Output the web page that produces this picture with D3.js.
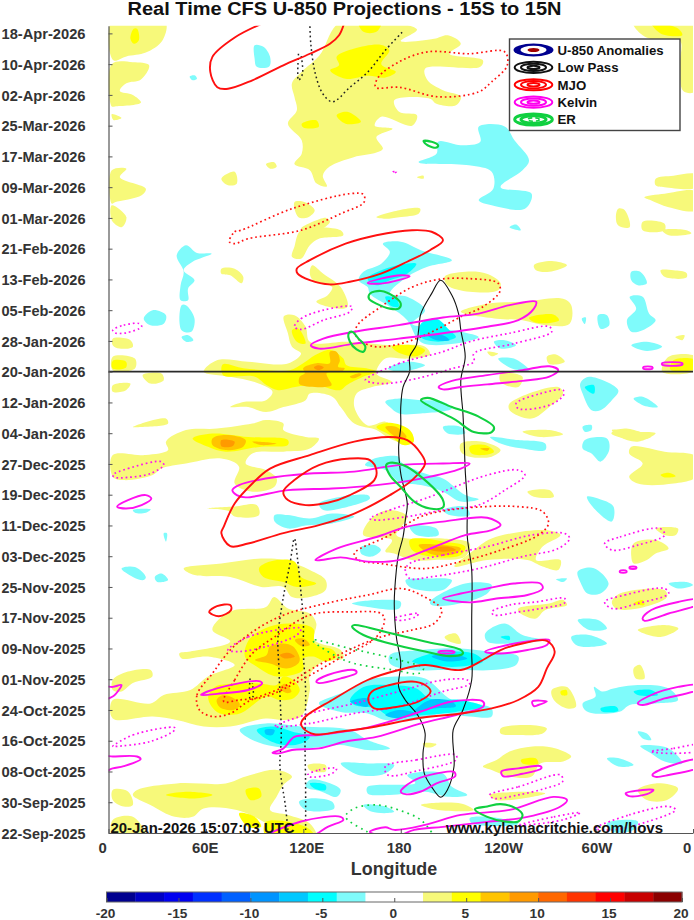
<!DOCTYPE html>
<html><head><meta charset="utf-8"><title>Real Time CFS U-850 Projections</title>
<script src="https://cdn.jsdelivr.net/npm/d3@7"></script>
<style>html,body{margin:0;padding:0;background:#fff}svg{display:block}text{font-family:"Liberation Sans",Arial,sans-serif}</style>
</head><body><div id="chart"></div>
<script>
// Every shape is a flat list: lon (deg E), days since 22-Sep-2025, lon, days, ...
const chartTitle = "Real Time CFS U-850 Projections - 15S to 15N";
const dateLabels = ["22-Sep-2025","30-Sep-2025","08-Oct-2025","16-Oct-2025","24-Oct-2025","01-Nov-2025","09-Nov-2025","17-Nov-2025","25-Nov-2025","03-Dec-2025","11-Dec-2025","19-Dec-2025","27-Dec-2025","04-Jan-2026","12-Jan-2026","20-Jan-2026","28-Jan-2026","05-Feb-2026","13-Feb-2026","21-Feb-2026","01-Mar-2026","09-Mar-2026","17-Mar-2026","25-Mar-2026","02-Apr-2026","10-Apr-2026","18-Apr-2026"];
const lonTicks = [0,60,120,180,240,300,360];
const lonLabels = ["0","60E","120E","180","120W","60W","0"];
const barTicks = [-20,-15,-10,-5,0,5,10,15,20];
const barColors = ["#00008f","#0000c4","#0000f0","#0030ff","#0060ff","#0094ff","#00c8ff","#00ffff","#7ffbfb","#ffffff","#ffffff","#f7f97a","#ffff00","#ffc400","#ff9a00","#ff6800","#ff3400","#ff0000","#c80000","#8b0000"];
const legendLabels = ["U-850 Anomalies","Low Pass","MJO","Kelvin","ER"];
const nowDay = 120;

const anomPos3 = [
[2,211,35,211,33,206,23,203,11,202,3,201],
[2,200,15,200.5,25,199.7,20,196,11,195,7,193,15,192,20,190,4,189,2,189],
[2,187,8,186,3,185.5],
[143,211,190,209,180,206,200.5,206.6,209,207.5,217,205.3,210,202.7,230.6,201,229,199.3,195,198.8,196.5,195.8,206,193.2,217,191.5,214,189.3,202,189.7,198,191,176,190.6,179,187.6,190,186.7,187,184,168,186.3,164,184,175,183.2,165,181,169,178,165,177,151,175.8,136,173.3,132,171,134.5,168.2,128,169,124,172.4,114.5,174,119,176.7,119,180.2,110.5,184.5,116,188,114.5,191.5,113,195,119,198,130,202.3],
[323,211,362,211,362,193,354,193,352,200,352,206,340,206,329,207.5],
[97,174,102,174.5,103.6,173.3,99.5,172.8],
[69.5,170.2,77.7,172,79,168.9,73.6,168.5],
[190,170.6,194,171,194,170.2],
[2,172.4,11,172.8,7,170.6,23,167.6,20.4,165.9,4,164.1,2,163.7],
[2,163.3,11,160.2,8,157.6,2,159.4],
[114.5,164.1,121,164.1,127,162,123,160.2,117,160.2],
[165,160.2,179,162,192,162.4,191,161.1,179,160.2,170.5,159.8],
[118.6,157.2,134,160,136.4,159,129.5,156.8],
[337,170.2,348,171,362,171.3,362,168,342.5,168,337,168.5],
[330,165.4,342.5,166.3,362,166.8,362,162,345,162.8,334,164.6],
[314,162.4,318,162,321,157.6,314,158,312.5,160.2],
[329,159,342.5,158.5,342.5,156.8,329,156.8],
[341,156.8,356,156.8,359,156,345,155.5],
[118.6,156.8,143,156.8,144.6,155.5,129.6,154.6,124,152.9,118.6,149.4,113,149.9,114.5,152.5],
[125.5,147.7,132.3,145.5,143,142,147.3,136.9,142,136.4,128,138.2,135,139.9,137.8,142,126.8,143.4,124,145.5],
[69.5,146.8,77.7,146.8,83,144.7,82,143,75,145.1,69.5,145.5],
[262,147.7,273,148.8,282.4,147.7,271.5,146,263.3,146.4],
[207,144.7,219.7,146,233,145.5,241.5,143,240,141.2,222.4,140.8,208.7,142.5],
[340,146.4,348,146.4,356,145.7,356,144.5,342.5,144.7],
[217,135.6,233.3,137.7,255,138.2,280,139,285,137.3,284,132.5,269,132.1,255,133.4,239,133.8],
[108,134.4,114.5,134.7,121.4,131.7,124,127.8,147.3,127.8,173.3,126.9,195,126.5,198,124.5,184,123.4,170.5,123.4,165,119.5,174.6,117.3,162.3,116,152.8,114.3,151.4,110.8,159.6,106,170.5,107,176,105.6,187,104,185.5,101.3,173,102.6,165,104.8,151.4,106.5,143,110.8,137.8,113.5,124,114.3,121.4,112.6,107.7,110.8,97,109.5,86,110.8,75,110.8,83,112.1,97,112.6,101,114.8,90,117.3,75,118.7,58.6,120,66.8,123,86,122.6,110.5,122.1,118.6,124.7,113,126.5,110.5,130],
[2.6,98.3,23,98.3,36.7,99.6,35.4,101.8,47.7,104.8,66.8,105.2,88.6,106.5,97,107.4,107.7,106.5,107.7,104.8,121.4,103,129.6,102.6,124,100,107.7,99.2,88.6,98.7,84.5,96.1,96.8,94.4,103.6,92.2,102,90,88.6,88.8,77.7,90.9,80.4,95.3,69.5,97.4,47.7,96.1,32.6,94.8,27.2,93.1,9.4,91.8,2.6,92.7],
[2.6,123.9,16.3,123.4,16.3,120.8,2.6,120.4],
[2.6,128.6,13.5,128.2,15,126.5,6.7,126,2.6,126.9],
[21,119.1,32.6,119.5,34,117.8,25.8,116.9],
[2.6,116.5,13.5,116.9,10.8,115.2,2.6,114.8],
[247,111.7,277,116,280,114.3,271.5,110.8,260.6,107.8,247,110],
[241.5,119.5,255,118.7,252.4,116,241.5,117.3],
[270,123.9,275.6,124.5,281,122.6,271.5,122],
[233.3,125.2,240,124.7,236,124],
[349,129,354.8,129.5,353.4,128.2],
[345,123.9,362,123.9,362,120.4,341,120],
[15,105.6,35.4,107.8,36.7,106.5,20.4,105.6],
[217,101.3,230.6,101.8,241.5,99.6,236,97.9,222.4,97.9,217,99.2],
[309.7,104,318,105.2,334,103,323,102.2],
[255,104.4,271.5,104.8,280,103.7,266,103],
[322,100.5,342.5,99.2,362,97.9,362,92.7,348,90.9,326,90.9,320.7,92.7,329,96.1,320.7,98.7],
[310,104.8,326,104.4,337,104,326,101.8,315,103],
[61,84.4,77.7,84.9,91.3,85.3,92.7,82.7,77.7,82.3,73.6,83.8],
[258,88.8,271.5,89.2,274.3,87.5,262,87.5],
[161,81.4,172,84,184,82.3,177.3,77.5,184,76.6,206,76.6,222.4,75.3,219.7,71.9,200.5,71,187,71,176,72.7,170.5,73.2,174.6,76.2,156.9,77.5],
[236,76.6,269,78.8,278.4,77.5,267.4,74.5,263.3,71,278.4,71,277,68.4,267.4,69.3,258,71,233.3,71,213,69.3,224,73.2],
[337,79.2,350.8,79.2,349.4,77.5,342.5,77.5],
[323.4,75.3,337,76.2,345,74,337,72.7,331.6,71,323.4,70.1,322,71.9],
[310,60.1,315,62.3,342.5,63.2,344,61.4,326,58.4,312.5,58.4],
[252.4,58.4,271.5,59.7,280,60.6,282.4,59.3,269,58,263.3,55.8,258,56.2,252.4,57.6],
[326,52.8,342.5,54.1,351,53.2,340,51],
[46.3,68.8,69.5,70.1,94,71.4,107.7,71,124,68.4,133.7,65.8,133.7,63.2,124,61.4,113,61.4,107.7,64,94,64,75,66.6,53,67.1],
[69.5,56.2,77.7,58,97,58.8,102,61.4,110.5,58.4,124,57.1,128,54.5,126.8,50.2,143,47.6,144.6,45.4,132.3,44.6,124,41.1,124,37.2,118.6,30.3,107.7,29.4,96.8,29.8,75,27.7,58.6,27.7,42,29.4,27.2,30.3,2.6,29.8,2.6,34.6,26,33.7,34,35.9,50.4,37.2,61.3,40.7,77.7,43.7,61.3,45.9,45,45.4,43.6,46.7,50.4,47.2,75,49.8,64,52.8],
[2.6,39.8,12,42,26,42.4,27,40.7,15,39,8,36.8,2.6,37.2],
[241.5,27.2,258,28.1,270,27.2,267.4,25.9,252.4,25.5,241.5,25.9],
[230.6,17.3,239,19,247,21.2,261,22.5,275.6,22,285,19.9,280,18.6,266,18.1,260.6,14.7,247,14.7,236,16.4],
[234.7,9.9,258,10.7,269,10.3,255,9,238.8,8.6],
[192.4,7.3,217,7.7,225,6,203,6],
[273,37.2,282.4,38,288,32.9,282.4,32.4,274.3,34.6],
[323.4,42.8,327.5,43.7,330.2,40.2,324.8,40.2],
[326,11.2,337,12.9,350.8,11.6,344,8.6,331.6,8.6],
[193.7,23.3,202,23.1,199,22.3,195,22.4],
[122.7,17.7,133.7,17.7,133.7,16,124,16.4],
[207,51,214,51.9,217,49.3,210,49.8],
[17.6,11.2,42,12.9,72.2,12.9,84.5,14.7,103.6,16.4,113,14.7,107.7,12.5,103.6,9.5,99.5,6,110.5,4.7,124,2.5,128,-1,107.7,-1,95.4,2.9,79,6,58.6,6.4,51.8,4.2,40.8,4.2,25.8,7.3,15,9.9],
[2.6,11.2,12,10.8,15,7.3,9.4,6.9,2.6,8.6],
[2.6,3.4,15,4.2,23,-1,2.6,-1]
];
const anomPos5 = [
[140.5,201.9,151,204,168,205,173,203.6,168,200,177,198,170.5,196.5,160,197,146,196.2,136.5,198.4,142,199.7],
[154,211,168,211,165,208.4,157,208.4],
[140.5,186.7,147,187.6,155.5,185,146,184.5],
[119,184.5,128,185.4,129.5,183.7,120,183.5],
[15.5,209.2,17.6,209.2,18.7,206.2,15.7,205.3,13.5,206.6],
[334,211,351,209.2,353.4,207.5,340,208],
[259,134,274,134.9,277.5,133.4,263.3,132.7],
[70.3,121.9,83,120.9,97.4,120.4,111.7,120.4,119.9,122.2,127.1,124.3,134.3,125.6,137.4,125.6,144.5,123.5,146.6,121.7,158.9,120.9,165,120,156.8,118.7,146.6,116.5,142.5,115.2,128.1,116.5,115.8,116.1,104.5,115.2,97.4,116.5,90.2,118.7,70.6,119.1],
[2.6,122.8,10.8,122.6,10.8,121.1,2.6,120.8],
[113,130.8,117,131.2,121.4,127.3,116,127.8],
[174.6,126.5,187,126.9,195,125.6,189.6,124,180,124.7],
[348,123,362,123,362,120.8,346,120.6],
[51.8,102.6,64,103.9,86,103,110.5,102.2,110.5,100.9,94,100.5,72.2,99.2,61.3,100.5],
[165,105.6,173.3,106.7,185.5,104.8,188,101.8,181.4,100.9,173.3,103.5],
[222.4,100.5,232,100.9,237.4,99.2,230.6,98.3,223.7,98.7],
[340,93.1,345,93.7,349.3,92.8,342.5,92.5],
[185.5,76.2,195,76.6,206,75.8,219.7,74.5,217,72.3,198,71.9,187,73.6],
[92.7,68.8,99.5,70.6,114.5,70.6,118.6,66.6,128,64.9,116,64,107.7,65.3,95.4,66.6],
[323.4,59.7,329,60.6,330,59.3],
[84,45.9,87.1,50.6,99.4,53.7,111.7,54.5,126,53.2,127.1,49.3,138.3,47.6,140.4,45.9,134.3,44.6,126,45.9,119.9,45.4,119.9,42.4,103.5,40.7,91.2,43.3],
[61.4,35.5,65.5,38,76.8,38.9,93.2,38.9,103.5,38.5,107.6,40.7,113.7,39.8,117.8,37.2,113.7,35,105.5,34.6,97.4,35.5,80.9,31.1,68.6,31.1,63.5,32.9],
[254,19,263.3,19.4,264.7,18.1,255,18.1],
[278.4,36.8,282,37.2,282.5,35.9,279,35.9],
[35.4,9.9,47.7,10.7,64,9.9,53,9],
[84.5,11.2,92.7,11.6,94,9.4,87.2,8.6],
[80.4,5.1,90,4.2,94,1.6,86,1.6],
[97,2.9,121.4,1.6,127,-1,97,-1]
];
const anomPos7 = [
[119.9,120.9,128.1,122.2,136.3,122.2,136.3,125.2,140.4,125.2,142.5,123,141.4,121.3,145.5,120.9,143.5,120,134.3,119.6,135.3,118.3,137.4,116.5,117.8,116.7,117.8,118.7,120.9,119.6],
[148.6,118.7,154.8,119.6,155.8,119.3,150.6,118.3],
[64,102.6,72.2,103.5,84.5,102.2,83,100.5,72.2,99.6,64,100.9],
[88.6,101.8,103.6,101.3,94,100.9],
[170.5,105.6,177.3,105.6,183.6,103,178.7,102.6],
[229,100,234.6,100,233.3,99.4],
[191,74.9,206,74.9,217,74,214,72.7,199,72.5],
[90.2,45,97.4,46.3,99.4,48.5,107.6,49.3,113.7,48.5,117.8,45.4,116.8,44.1,109.7,42.8,99.4,44.1],
[114.8,50.2,119.9,50.6,124,48.9,118.9,48.6],
[66.6,34.6,70.6,35.9,78.9,34.6,80.9,33.3,76.8,32,68.6,32.7],
[105.5,37.7,108.6,38.8,112.7,36.8,109.7,36.4]
];
const anomPos9 = [
[126.5,121.1,129.1,121.7,132.6,121.1,129.1,120.4],
[69.5,102.2,77.7,101.8,76.3,100.6,69.5,100.6],
[196.5,74,208.7,74.5,214,73.6,203,73.2],
[105.5,46.3,110.6,46.9,114.8,45.9,108.6,45.4]
];
const anomNeg3 = [
[90,204.9,95.4,204.5,99.5,201.9,99,199.4,91.3,199.3,90,201.4],
[50,196.8,53,197.1,54.5,196.2,51.8,195.8],
[228,183.7,244,183.8,250,180.2,259,175,255,172.4,241.5,168,260.6,166.3,256.5,162.4,236,163.3,228,164.6,237,167.6,236,172,222,173.7,191,174.5,202,176.7,203,179.8,217,178.9,229,179.8],
[247,157.6,251,158.3,254,156.8],
[169,153.3,180,153.8,192.4,151.6,211.5,149,196.5,147.3,184,144.7,173.3,140.3,184,139.5,195,136,187,132.5,194,131.7,217,130.4,228,129,214,127.3,194,127.3,189.6,129,184,133.4,173.3,136.9,161,140.3,159.6,142,154,143.8,157,146,168,148.1,173.3,151.2],
[172,120.8,184,122.6,195,121.7,179,120],
[42,150.3,47.7,152.9,54.5,150.9,63.5,150.7,51.8,148.6,46.3,146.4,53,143.8,49,141.6,49,138.6,44.4,138.6,44.4,142.5,46.3,146],
[45,137.3,47.7,137.3,53,133.8,51,130.4,45,130.8],
[21.7,133.8,27.2,136,35.4,134.7,34,132.5,25.8,132.1],
[45,129,49,129.5,52.3,128.2,47.7,127.8],
[170.5,112.2,179,113,192.4,112.6,206,112.2,211.5,110.4,192.4,109.1,179,109.1,173.3,110.8],
[290.6,117,296,118.7,314,115.2,310,112.6,303,110,297.5,110,292,114.3],
[323.4,113,329,113.5,338.4,110.8,329,111.3],
[240,123.4,249.7,123.4,259,120.4,248.4,120.8],
[237.4,127.8,244,128.2,251,126.9,241.5,126],
[322,126.9,331.6,127.8,341,126.5,331.6,125.4],
[321,139.5,329,139.5,333,135.1,337,133.4,329,130.8,322,130.4,319.3,133.4,325,136.4],
[301.5,134.7,307,134.7,308.4,132.1,303,131.2],
[291.5,133.8,294,134.1,293.4,132.4],
[322,146,327.5,146,331.6,143,326,142.5,322,143.8],
[206,105.6,217,105.6,219.7,104,208.7,104],
[235,103,252.4,102.2,269,101.3,269,99.6,255,100,241.5,101.3],
[292,105.7,297.5,106.1,297.5,104.8,293.4,104.4],
[293.4,102.2,307,102.6,308.4,99.6,303,96.6,297.5,98.7,292,100],
[294.7,87.5,301.5,87,311,84.9,310,81,300,84],
[163.7,97.4,178.7,97.9,180,96.6,195,93.5,206,92.2,219.7,87.9,228,86.8,217,86.2,206,88.8,192.4,90.5,178.7,91.4,170.5,94.4,158,95.7],
[206,84,219.7,84.9,222.4,82.7,210,82.7],
[185.5,79.7,202,79.2,203.3,77.5,189.6,77.5],
[102.3,82.7,110.5,82.7,124,81.8,137.8,83.1,151.4,82.3,137.8,80.5,121.4,80,110.5,79.2,102.3,81],
[129.6,85.7,159.6,87.9,161,87,143,84.4,132.3,84],
[15,84,26,84.2,23,83.3,16.3,83.3],
[34,78,36,78,35.4,75.8],
[155.5,74.4,163.7,74.9,167.8,73.6,162.3,71.9,155.5,72.7],
[289,68,299,68.9,308,64.9,303,62.3,295,62.3,291,64.9],
[345,64.9,356,65.3,360,64.5,350.8,63.6],
[275.6,66,282.4,66.2,280,65.3],
[289,55.4,301.5,55.4,307,53.2,296,52.8],
[285,51,296,51.5,307,49.3,296,48.4,288,48.9],
[183,65.8,195,66.2,211.5,65.8,206,63.2,185.5,64],
[198,60.1,219.7,64.9,236,64.5,233.3,62.3,211.5,59.3,199,59.3],
[150,59.7,165,60.6,180,60.1,179,58.4,159.6,58.8],
[8,68.8,16.3,69.2,23,66.6,21.7,65.8,15,66.6],
[28.5,66.6,32.6,67.5,36.7,65.8,30,65.3],
[129.6,33.7,146,36.8,159.6,39.8,178.7,40.7,195,40.2,211.5,34.6,226.5,33.7,236,32.4,236,30.3,222.4,30.3,206,31.1,189.6,29.4,170.5,29.4,159.6,31.1,143,31.5],
[80.8,26.8,96.8,28.5,118.6,27.7,148.7,26.8,159.6,24.2,173.3,22,159.6,21.6,143,22.9,121.4,22,102.3,22.5,88.6,24.2],
[173.3,46.3,192.4,47.6,217,48,233.3,47.2,252.4,45.9,251,43.7,236,42.4,219.7,42.4,206,42.4,187,42.4,173.3,44.1],
[233.3,49.8,232,51.9,244,54.5,255,51.5,267.4,50.2,249.7,49.3],
[292,33.7,300,35.5,299,38,304,36.8,311,37.6,326,38.5,345,37.6,350.8,34.6,337,33.7,321,33.3,315.2,31.6,299,31.1,293.4,32],
[326,26.4,331.6,25.9,334.3,24.2,329,24.6],
[327.5,22.6,345,22,353.4,18.1,342.5,18.6,334.3,20.7],
[307,19.4,315,19.4,323.4,17.7,314,17.3],
[143,18.1,159.6,18.1,176,17.7,170.5,15.5,154,15.1],
[124,13.8,133.7,13.3,143,11.2,140.5,9.4,131,10.8,121.4,12],
[159.6,12,189,13,184,15,206,15.5,211.5,12,221,9.9,208.7,9.4,195,10.7,173.3,9.9,159.6,10.3],
[117.3,8.1,124,9,137.8,8.1,139,6.4,121.4,6],
[222.4,3.8,233.3,4.2,252.4,2.5,251,2.1,224,2.5],
[307,2.5,326,3,323.4,0.8,310,0.4],
[156.9,7.3,170.5,6.9,176,5.5,162.3,5.5]
];
const anomNeg5 = [
[159.6,144.2,170.5,146.8,189.6,148.1,184,145.5,173.3,143.8,165,142.5],
[170.5,139.5,177.3,139,178.7,136.9,173.3,137.3],
[192.4,132.5,202,133.8,210,130.8,214,129,203,127.8,192.4,129],
[293.4,116,299,116.5,299,114.3,294.7,115.2],
[241.5,51,247,51.2,247,50.2],
[148.7,34.6,157,38,173.3,38.5,189.6,37.6,197.8,35,217,34.6,230.6,32.9,214,31.5,195,30.7,173.3,30.3,165,32.4,151.4,33.3],
[91.3,26.8,102.3,27.7,113,26.4,124,25,118.6,23.3,107.7,22.9,96.8,24.6],
[187,44.6,199,46.7,225,46.7,230.6,44.6,217,43.3,195,43.7],
[323.4,36.8,334.3,37.2,338.4,35.9,326,35.9],
[303,32.4,312.5,32.9,314,31.8,304,31.6],
[124,12.9,133.7,12.5,133.7,11.2,126.8,11.6]
];
const anomNeg7 = [
[196.5,129.5,206,129.5,210,128.2,202,128.2],
[197.8,34.6,211.5,34.2,214,33,200.5,32.4,188.3,31.6],
[148.7,34.2,159.6,35,159.6,32.9],
[170.5,30.7,178.7,32,189.6,31.1,178.7,29.8],
[96.3,26.8,102.3,26.8,101,25.5,96.8,25.7],
[199,45.9,210,46.7,221,45.4,208.7,44.6]
];

const lowPassSolid = [
[204.6,143.8,199,140.3,192.4,135.1,191,130.8,189.6,126.9,185.5,123.9,185.5,120,181.4,116,180,110.8,180,105.6,178.7,100.5,180,93.5,184,85.7,182.8,81.4,181.4,77,178.7,72.7,177.3,68.4,176,59.7,177.3,51,180,44.1,178.7,38,182.8,34.6,191,30.3,195,25.9,193.7,20.7,194.5,15.5,199,12,204.6,9.3,208.7,11.2,212.8,17.3,212.3,26.8,218.3,32,223.7,39.8,223.7,46.7,223.7,55.4,223.7,68.4,221,77,221,85.7,219.7,94.4,219,103,218.3,109.1,217,117.8,219.7,123.9,217,130.8,215.6,135.1,211.5,139.9]
];
const lowPassDottedOpen = [
[124,211,124.6,205.3,127.4,197.5,132,192.3,138,190.2,148.7,194,159.6,197.9,170.5,203.6,182,208.8],
[117,202.7,117,195.8,119.5,197.5,118.6,202.3],
[110.5,0.8,109,6.9,105.6,17.3,106.4,25,105,42.4,104.4,51,107.7,61.4,111.8,70.1,114.5,76.6,116.5,71,118.6,62.3,120,55.4,120,46.7,121.4,37.2,121,25,121.4,12,121.4,0.8],
[87.2,40.2,87.2,35,89,35.5,88.6,39]
];
const mjoSolidOpen = [
[97,211,78,207,64,201.9,62.7,198,67,194,73.6,193.6,88.6,195.8,107.7,199.7,124,202.7,136.4,205.3,142,207.5,145.4,211]
];
const mjoSolid = [
[116,146.8,124,149,146,153.3,165,155.5,187,156.8,199,156.4,206,154.2,198,151.6,184,148.6,167.8,145.5,148.7,143.4,136.4,142.7,124,143.8,116.5,145.5],
[69.5,78,71,79.7,77.7,85.7,88.6,90.9,99.5,94.8,124,98.3,151.4,101.8,173.3,103,184,102.2,192.4,98.7,195,96.1,187,91.8,173.3,87.9,151.4,83.1,129.6,80.1,107.7,78,86,75.3,75,74.6],
[107.7,88.8,114.5,91.8,129.6,95.7,148.7,97.4,161,97,165,94.4,163.7,91.8,148.7,87.9,135,85.9,121.4,85.3,110.5,86.6],
[62,57.5,66.8,59,75,59.3,75.5,58,68,56.4],
[118.6,28.5,121.4,30.3,137.8,34.6,159.6,39.8,178.7,42.4,195,43.7,217,42.4,230.6,45,241.5,47.6,255,49.3,270,50,274.8,47.2,270,42.8,264.7,38,252.4,34.6,236,32.4,217,31.1,189.6,29.8,165,27.7,143,26.4,126.8,25.7,120,27.2],
[160,34.6,162.3,36.8,173.3,38.5,187,39.4,195,38.5,198.4,36.8,191,34.2,176,32.7,163.7,32.4]
];
const mjoDotted = [
[244,203.2,222,202.7,196.5,203.2,179,200.6,166.4,196.7,164.5,194,179,194,203,191.5,228,192.8,236,195.4,245.6,199.7],
[74.4,153.8,77.7,156.4,81.8,156.8,113,162.4,148.7,166.3,157,166.1,157.4,164.1,143,161.1,118.6,156.8,86,154.6,77.7,153.3],
[152.8,131.7,167.8,136.9,187,142,203.3,144,222.4,144.2,240,143,241,140.8,230.6,136.9,217,134.3,203.3,131.2,189.6,128.6,176,126.9,162.7,126.6,152.8,129],
[151.4,72.7,173.3,77.5,192.4,82.3,217,84.4,252.4,84.9,267.4,83.6,271,80.5,264.7,77.5,238.8,73.2,217,70.6,195,68.8,167.8,70.1,154,71],
[56,32,54.5,35.9,64,41.5,75,47.6,86,51.5,97,54.5,110.5,57.1,137.8,60.1,159.6,61.9,180,63.6,192.4,61.9,205.2,58,200.5,54.5,187,52.8,167.8,51,146,47.2,124,42.4,107.7,38,86,34.2,75,31.1,64,30.3],
[71,34.2,77.7,39.8,88.6,46.7,102.3,51,124,56.7,148.7,57.5,167.8,57.1,170,55.4,165,51,140.5,45,118.6,39.8,96.8,35.5,80.4,34.6]
];
const kelvinSolid = [
[159.6,143.1,167.8,144.2,180,145.1,185.5,144.8,178.7,143.8,167.8,142.9],
[124.6,126.9,132.3,128.6,151.4,130.4,178.7,132.1,206,134.1,228,135.1,247,137.3,263.3,138.2,262,136.4,252.4,133.4,233.3,131.7,206,130,178.7,128.6,151.4,127.3,129.6,126],
[203.3,116,211.5,117.6,233.3,119.1,255,120.4,271.5,121.4,277,120.4,271.5,118.7,255,117.6,233.3,116.7,217,116,206,115.4],
[329.4,121.2,335,121.2,335,120.8,329.4,120.8],
[341,122.2,353.4,122.2,353.4,121.8,341,121.8],
[76.3,89.2,80.4,90.5,96.8,92.2,124,93.5,151.4,94,178.7,95.7,206,96.1,222.4,96.1,217,94.8,192.4,92.2,165,90.5,137.8,89.6,110.5,89.2,84.5,87.3,79,87.9],
[5.3,84.9,12,86.6,23,87.9,26.4,87,20.4,85.3,10.8,84.4],
[127.4,71,140.5,74,165,77,184,79.7,206,81,233.3,82,241.5,80.1,236,78.8,219.7,77.5,198,74,178.7,71,159.6,70.6,143,71.7,131,71],
[315,68.2,319,68.2,319,67.8,315,67.8],
[321,69.2,325,69.2,325,68.8,321,68.8],
[206,61,217,62.3,233.3,63.6,249.7,64.9,266,64.9,267.4,63.6,258,61.9,239,61,222.4,60],
[328.9,55.8,334.3,58,350.8,60.1,364,60.8,364,59.7,345,57.1,330.2,55.2],
[203.3,47.2,213,47.2,213,46.9,203.3,46.9],
[232,47.2,241.5,48.5,258,49.8,271.5,50.2,270,48.9,258,47.6,241.5,46.7],
[128,39.4,135,41.1,151.4,42.4,152.8,41.7,143,40.2,129.6,39],
[57,35.9,66.8,37.6,92.7,39.5,94.6,38.9,86,37.2,66.8,36.2],
[-3,38,2.6,38,8,38.5,6.7,37.4,2.6,35.5,-3,35],
[101,20.9,107.7,22,114.5,25,129.6,25.5,157,27.2,173.3,29,192.4,31.6,211.5,34.2,230.6,34.2,231,33,214,30.7,192.4,28.5,165,25,146,23.8,129.6,22,113,21.6,105,20.7],
[261,34.2,270,34.2,264.7,33.3,262,33],
[326,33.7,334.3,35.9,350.8,38,364,38.5,364,37.5,342.5,35,329,33.3],
[-3,19.9,2.6,19.9,17.6,19.9,19.8,19.2,9.4,17.4,2.6,16.8,-3,16],
[180,10.8,187,13.4,198,15.1,212.8,15.9,213.6,14.8,202,12.9,192.4,10.8,182.8,10.1],
[242,16,252.4,16.8,266,17.4,266.6,16.8,255,15.4,243,14.8],
[318.5,10.3,329,11.2,335.7,11.2,331.6,10.1,320.7,9.6],
[335,15.1,345,17.3,364,19,364,17.3,345,15.1,337,14.6],
[161,0.3,170.5,1.5,176,0.8,195,2.1,217,4.7,247,6,274,9.4,282.4,8.6,278.4,6.9,258,4.2,233.3,2.9,206,1.6,188.3,0.8,176,-1],
[96.8,-1,118.6,3,143,4.2,144.6,3.4,135,1.6,124,-1]
];
const kelvinDotted = [
[175,172,177.3,172,176,171.7],
[114.5,131.7,118.6,133.8,132.3,136,150,136.9,148.7,135.6,132.3,133.4,118.6,131],
[2.6,130.8,9.4,132.1,19,132.5,20.4,131.7,10.8,130.1,4,130.1],
[158.2,117.8,178.7,122.1,206,125.2,222.4,127.8,247,130,271.5,131.7,273,130.4,249.7,127.3,225,124.7,225,122.6,211.5,120.8,189.6,118.2,170.5,116.9,161,117.3],
[251,111.7,266,114.3,280,115.2,280.3,113.9,271.5,111.3,252.4,110.4],
[2.6,93.1,12,94.8,32.6,96.6,34,95.7,25.8,93.5,12,92.5,4,92.5],
[161,81.8,173.3,84,195,87,233.3,93.1,252.4,94.4,256.5,93.1,244.2,89.2,228,85.3,206,84,184,82.3,165,81.4],
[185.5,70.1,206,72.3,233.3,74.5,260.6,77.5,281,77.9,284,76.6,277,74,255,71.9,228,68.8,198,66.6,185.5,66.2,182.8,68.4],
[305.6,75.3,315,77,339.8,79.2,342.5,77.5,326,74.9,310,73.6],
[236,57.5,247,59.3,263.3,60.1,281,61,281,59.9,266,58.4,252.4,57.5,237.4,56.7],
[305.6,60.1,318,61.9,342.5,63.6,345,62.3,326,59.7,310,58.4],
[176,55.8,186,56.9,191,57.1,189,56.2,178,55.3],
[73.6,47.6,86,51,110.5,53.2,118.6,53.2,116,51.5,97,48.5,80.4,47.2],
[102.3,27.7,124,31.1,151.4,33.7,178.7,36.8,206,39.8,221,39.8,222.4,38.8,206,36.8,178.7,32.9,151.4,31.1,124,28.5],
[2.6,22.5,15,25.5,40.8,27.4,40.8,26.8,25.8,23.8,4,22.5],
[170.5,17.3,189.6,19,214,20.3,214,19,192.4,16.4,172,15.1],
[122.7,15.1,129.6,16.4,140.5,16.8,137.8,15.5,124,14.6],
[234.7,9.9,252.4,12,278.4,15.1,279.7,13.4,269,11.6,252.4,9.9,237.4,9],
[334,21.2,348,22,364,22.9,364,21.6,348,20.7],
[252.4,2,274.3,4.2,290.6,5.3,279.7,3.4],
[300,1.2,320.7,4.7,345,6.9,349.3,6,331.6,2.9,310,0.8]
];
const erSolid = [
[194,180,199,179.8,203,178.9,202,178.3,196.5,178.9],
[160.4,139,161,140.3,167.8,141,176,139.5,180,137.7,178.7,136.4,173.3,136.4,165,137.7],
[148,130,150,130.4,154,128.6,158.2,126.5,157,125.2,152.8,125.8,148.7,127.8],
[192.4,112.6,196.5,113.2,211.5,110.8,228,108.3,237.4,105.6,236,104.3,225,104.3,214,107.4,200.5,110.4],
[171,95.7,173.3,96.3,181.4,95.7,192.4,92.7,206,86.6,206,84.7,198,84.4,188.3,86.2,180,90,173.3,93.1],
[150,53.7,151.4,54.1,173.3,52,195,49.8,217,47.6,218.3,46.7,210,46,195,47.2,173.3,49.3,157,51.5],
[225.7,6.2,233.3,6.9,241.5,7.5,251,6.4,255,4.7,252.4,3,244,3,233.3,4.2]
];
const erDotted = [
[125.5,50.2,148.7,48,179,45,194,42.8,191,41.5,176,42.4,151.4,44.1,140.5,45.9]
];
const erDottedOpen = [
[159.6,0.3,146,4.2,151.4,6.4,165,7.3,178.7,6,192.4,3.4,199,0.2]
];

const W = 694, H = 920;
const x = d3.scaleLinear().domain([0,360]).range([108.5,693]);
const y = d3.scaleLinear().domain([0,210]).range([833,25.7]);
const svg = d3.select("#chart").append("svg").attr("width",W).attr("height",H);
svg.append("defs").append("clipPath").attr("id","plot").append("rect")
  .attr("x",x(0)).attr("y",y(210)).attr("width",x(360)-x(0)).attr("height",y(0)-y(210));
const pairs = f => d3.range(0,f.length,2).map(i=>[f[i],f[i+1]]);
const closed = d3.line().x(d=>x(d[0])).y(d=>y(d[1])).curve(d3.curveCatmullRomClosed.alpha(0.5));
const open = d3.line().x(d=>x(d[0])).y(d=>y(d[1])).curve(d3.curveCatmullRom.alpha(0.5));
const bandColor = d3.scaleQuantize().domain([-20,20]).range(barColors);
const plot = svg.append("g").attr("clip-path","url(#plot)");

[[anomPos3,3],[anomPos5,5],[anomPos7,7],[anomPos9,9],[anomNeg3,-3],[anomNeg5,-5],[anomNeg7,-7]].forEach(([set,v])=>{
  plot.append("g").selectAll("path").data(set).join("path")
    .attr("d",f=>closed(pairs(f))).attr("fill",bandColor(v));
});
function strokes(set,gen,color,width,dash){
  plot.append("g").selectAll("path").data(set).join("path")
    .attr("d",f=>gen(pairs(f))).attr("fill","none").attr("stroke",color)
    .attr("stroke-width",width).attr("stroke-linejoin","round").attr("stroke-dasharray",dash||null);
}
const DOT="1.7 2.9", DOTG="1.7 4.2", RED="#ff1010", MAG="#ff10f0", GRN="#10d040";
strokes(lowPassDottedOpen,open,"#222",1.5,DOT);
strokes(erDotted,closed,GRN,1.7,DOTG);
strokes(erDottedOpen,open,GRN,1.7,DOTG);
strokes(kelvinDotted,closed,MAG,1.7,DOT);
strokes(mjoDotted,closed,RED,1.7,DOT);
strokes(lowPassSolid,closed,"#111",1.1);
strokes(kelvinSolid,closed,MAG,1.9);
strokes(mjoSolid,closed,RED,1.9);
strokes(mjoSolidOpen,open,RED,1.9);
strokes(erSolid,closed,GRN,2.1);

svg.append("line").attr("x1",x(0)).attr("x2",x(360)).attr("y1",y(nowDay)).attr("y2",y(nowDay))
  .attr("stroke","#2a2a2a").attr("stroke-width",1.7);

function squeeze(sel,k){
  sel.each(function(){
    this.setAttribute("textLength",(this.getComputedTextLength()*k).toFixed(1));
    this.setAttribute("lengthAdjust","spacingAndGlyphs");
  });
  return sel;
}
const yAxis = d3.axisLeft(y).tickValues(dateLabels.map((d,i)=>i*8)).tickFormat((d,i)=>dateLabels[i]).tickSizeInner(-4).tickSizeOuter(0);
const gy = svg.append("g").attr("transform",`translate(${x(0)},0)`).call(yAxis);
gy.select(".domain").attr("stroke","#555").attr("stroke-width",1.2);
gy.selectAll("line").attr("stroke","#555");
gy.selectAll("text").attr("font-size",14.5).attr("font-weight","bold").attr("fill","#333")
  .attr("font-family",'"Liberation Sans"').attr("x",-23).attr("dy","0.36em")
  .attr("textLength",84).attr("lengthAdjust","spacingAndGlyphs");

const xAxis = d3.axisBottom(x).tickValues(lonTicks).tickFormat((d,i)=>lonLabels[i]).tickSizeInner(-4).tickSizeOuter(0);
const gx = svg.append("g").attr("transform",`translate(0,${y(0)})`).call(xAxis);
gx.select(".domain").attr("stroke","#555").attr("stroke-width",1.2);
gx.selectAll("line").attr("stroke","#555");
squeeze(gx.selectAll("text").attr("font-size",14.5).attr("font-weight","bold").attr("fill","#333")
  .attr("font-family",'"Liberation Sans"').attr("text-anchor","start")
  .attr("x",(d,i)=>lonLabels[i]==="0"?-10.5:-14.5).attr("y",20).attr("dy",0),1.03);

squeeze(svg.append("text").attr("x",394).attr("y",875).attr("text-anchor","middle").attr("font-size",19)
  .attr("font-weight","bold").attr("fill","#333").text("Longitude"),0.94);
svg.append("text").attr("x",344.5).attr("y",15).attr("text-anchor","middle").attr("font-size",18)
  .attr("font-weight","bold").attr("fill","#111").attr("textLength",434).attr("lengthAdjust","spacingAndGlyphs").text(chartTitle);

svg.append("text").attr("x",110.5).attr("y",832.5).attr("font-size",14.5).attr("font-weight","bold").attr("fill","#111")
  .attr("textLength",184).attr("lengthAdjust","spacingAndGlyphs").text("20-Jan-2026 15:07:03 UTC");
svg.append("text").attr("x",446).attr("y",832.5).attr("font-size",14.5).attr("font-weight","bold").attr("fill","#111")
  .attr("textLength",217).attr("lengthAdjust","spacingAndGlyphs").text("www.kylemacritchie.com/hovs");

const lg = svg.append("g");
lg.append("rect").attr("x",509.5).attr("y",39).attr("width",170.5).attr("height",91.5).attr("fill","#fff").attr("stroke","#444").attr("stroke-width",1.4);
const iconY = d3.scalePoint().domain(legendLabels).range([50,119.5]);
const iconStyle = {"Low Pass":"#111","MJO":"#ff0000","Kelvin":"#ff00f0","ER":"#10d040"};
legendLabels.forEach(name=>{
  const g = lg.append("g").attr("transform",`translate(533.5,${iconY(name)})`);
  if(name==="U-850 Anomalies"){
    g.append("ellipse").attr("rx",20).attr("ry",6.5).attr("fill","#000090");
    g.append("ellipse").attr("rx",13).attr("ry",4.2).attr("fill","#fff");
    g.append("ellipse").attr("rx",6).attr("ry",2).attr("fill","#a00000");
  } else {
    [[18.8,5.6],[12.5,3.7],[6,1.7]].forEach(([rx,ry],i)=>{
      g.append("ellipse").attr("rx",rx).attr("ry",ry).attr("fill","none")
       .attr("stroke",iconStyle[name]).attr("stroke-width",name==="ER"?(i===2?1.6:3):2)
       .attr("stroke-dasharray",(name==="ER"&&i===2)?"4 3":null);
    });
  }
  squeeze(lg.append("text").attr("x",557.5).attr("y",iconY(name)+4.8).attr("font-size",13.5)
    .attr("font-weight","bold").attr("fill","#111").text(name),0.98);
});

const cb = d3.scaleLinear().domain([-20,20]).range([106.5,682]);
const bands = d3.range(-20,20,2);
svg.append("g").selectAll("rect").data(bands).join("rect")
  .attr("x",d=>cb(d)).attr("y",892).attr("width",d=>cb(d+2)-cb(d)+0.4).attr("height",10)
  .attr("fill",d=>bandColor(d+1));
svg.append("rect").attr("x",cb(-20)).attr("y",892).attr("width",cb(20)-cb(-20)).attr("height",10)
  .attr("fill","none").attr("stroke","#666").attr("stroke-width",1);
const cAxis = d3.axisBottom(cb).tickValues(barTicks).tickFormat(d=>d).tickSizeInner(-4).tickSizeOuter(0);
const gc = svg.append("g").attr("transform","translate(0,902)").call(cAxis);
gc.select(".domain").remove();
gc.selectAll("line").attr("stroke","#555");
squeeze(gc.selectAll("text").attr("font-size",13).attr("font-weight","bold").attr("fill","#333")
  .attr("font-family",'"Liberation Sans"').attr("x",-1.5).attr("y",16).attr("dy",0),1.05);
</script></body></html>
